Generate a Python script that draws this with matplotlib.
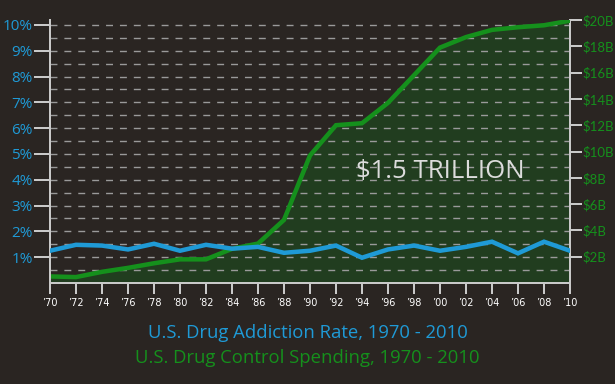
import numpy as np
import matplotlib.pyplot as plt

years = list(range(1970, 2011, 2))
year_labels = ["\u2019" + str(y)[2:] for y in years]

# addiction rate, percent
addiction = [1.25, 1.48, 1.45, 1.3, 1.52, 1.25, 1.48, 1.33, 1.4, 1.17, 1.25,
             1.45, 0.98, 1.3, 1.45, 1.25, 1.4, 1.6, 1.15, 1.6, 1.25]
# drug control spending, billions of dollars
spending = [0.5, 0.45, 0.85, 1.15, 1.5, 1.8, 1.8, 2.6, 3.0, 4.8, 9.7,
            12.0, 12.15, 13.7, 15.8, 17.9, 18.7, 19.25, 19.45, 19.6, 19.95]

pct_ticks = list(range(1, 11))
usd_ticks = list(range(2, 21, 2))

bg = "#2a2522"
blue = "#1f9ad6"
green = "#15901c"
fill_green = "#213d1f"
axis_col = "#c9c9c9"
px = 72 / 100  # points per pixel

fig = plt.figure(figsize=(6.15, 3.84), dpi=100, facecolor=bg)
ax = fig.add_axes([50/615, 1-283/384, 520/615, 263/384])
ax.set_facecolor(bg)
ax2 = ax.twinx()

ax.set_xlim(1970, 2010)
ax.set_ylim(0, 10.19)
ax2.set_ylim(0, 20)

# spending (right axis)
ax2.fill_between(years, spending, 0, color=fill_green, zorder=1)
for g in np.arange(0.5, 10.01, 0.5):
    ax2.axhline(g * 20 / 10.19, color="#9a9a9a", lw=1, dashes=(5, 5), zorder=2)
ax2.plot(years, spending, color=green, lw=4.5*px, solid_joinstyle="miter", zorder=3)

# addiction rate (left axis) drawn above
ax.set_zorder(ax2.get_zorder() + 1)
ax.patch.set_visible(False)
ax.plot(years, addiction, color=blue, lw=4.5*px, solid_joinstyle="miter", zorder=4)

ax2.text(2000, 8.45, "$1.5 TRILLION", color="#dcdcdc", fontsize=18.5,
         family="Open Sans", ha="center", va="center", zorder=5)

for a in (ax, ax2):
    for s in a.spines.values():
        s.set_visible(False)
ax.spines["left"].set_visible(True)
ax.spines["bottom"].set_visible(True)
ax2.spines["right"].set_visible(True)
for s in (ax.spines["left"], ax.spines["bottom"], ax2.spines["right"]):
    s.set_color(axis_col)
    s.set_linewidth(2*px)

ax.set_xticks(years)
ax.set_xticklabels(year_labels, color="white", fontsize=7, family="DejaVu Sans")
ax.tick_params(axis="x", direction="out", length=11*px, width=2*px, color=axis_col, pad=3)

ax.set_yticks(pct_ticks)
ax.set_yticklabels([f"{p}%" for p in pct_ticks], color=blue, fontsize=11, family="Open Sans")
ax.tick_params(axis="y", direction="out", length=16*px, width=2*px, color=axis_col, pad=1)

ax2.set_yticks(usd_ticks)
ax2.set_yticklabels([f"${v}B" for v in usd_ticks], color=green, fontsize=9.5, family="Lato")
ax2.tick_params(axis="y", direction="out", length=12*px, width=2*px, color=axis_col, pad=0.5)

fig.text(0.5, 1-333/384, "U.S. Drug Addiction Rate, 1970 - 2010", color=blue,
         fontsize=13.3, family="Open Sans", ha="center", va="center")
fig.text(0.5, 1-358/384, "U.S. Drug Control Spending, 1970 - 2010", color=green,
         fontsize=13.3, family="Open Sans", ha="center", va="center")

fig.savefig("out.png", dpi=100, facecolor=bg)
